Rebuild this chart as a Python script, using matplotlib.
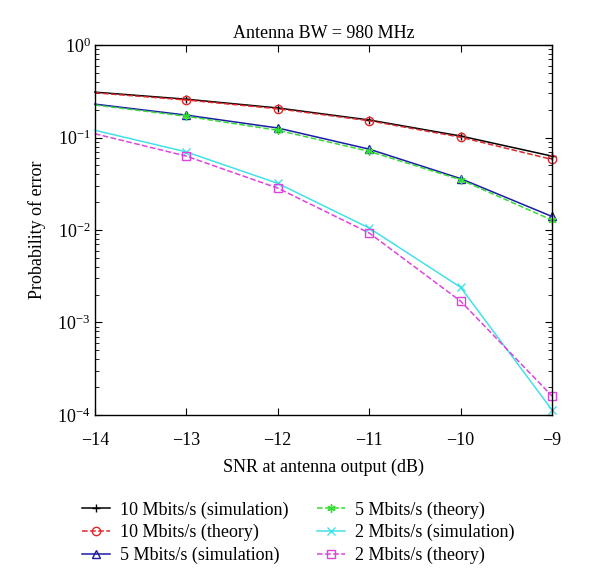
import matplotlib
matplotlib.use("Agg")
import matplotlib.pyplot as plt
from matplotlib.ticker import LogLocator, NullFormatter

plt.rcParams["font.family"] = ["Liberation Serif", "DejaVu Serif"]
plt.rcParams["mathtext.fontset"] = "stix"
plt.rcParams["font.size"] = 13

snr = [-14, -13, -12, -11, -10, -9]

sim_10 = [0.31, 0.26, 0.209, 0.155, 0.104, 0.063]
theory_10 = [0.305, 0.255, 0.205, 0.152, 0.101, 0.058]
sim_5 = [0.23, 0.175, 0.127, 0.075, 0.036, 0.014]
theory_5 = [0.225, 0.17, 0.12, 0.071, 0.035, 0.0128]
sim_2 = [0.12, 0.07, 0.032, 0.0105, 0.0024, 0.000113]
theory_2 = [0.11, 0.063, 0.0284, 0.0093, 0.0017, 0.00016]

# MATLAB-style asterisk marker
asterisk = (6, 2, 0)

series = [
    ("10 Mbits/s (simulation)", sim_10, "k", "-", "+"),
    ("10 Mbits/s (theory)", theory_10, "#e0282a", "--", "o"),
    ("5 Mbits/s (simulation)", sim_5, "#1c1ca8", "-", "^"),
    ("5 Mbits/s (theory)", theory_5, "#33dd33", "--", asterisk),
    ("2 Mbits/s (simulation)", sim_2, "#44e0e8", "-", "x"),
    ("2 Mbits/s (theory)", theory_2, "#dd44dd", "--", "s"),
]

fig = plt.figure(figsize=(6.0, 5.86), dpi=100)
ax = fig.add_axes([0.158, 0.292, 0.762, 0.631])

for label, values, color, ls, marker in series:
    ax.semilogy(snr, values, color=color, linestyle=ls, marker=marker,
                markersize=6, markerfacecolor="none", markeredgecolor=color,
                markeredgewidth=1.0, linewidth=1.1, markevery=slice(1, None),
                label=label, clip_on=False)

ax.set_xlim(-14, -9)
ax.set_ylim(1e-4, 1e0)
ax.set_xticks(snr)
ax.set_xticklabels(["\u221214", "\u221213", "\u221212", "\u221211", "\u221210", "\u22129"])
ax.yaxis.set_major_locator(LogLocator(base=10, numticks=10))
ax.yaxis.set_minor_locator(LogLocator(base=10, subs=range(2, 10), numticks=10))
ax.yaxis.set_minor_formatter(NullFormatter())
ax.tick_params(which="both", direction="in", top=True, right=True)
ax.tick_params(which="major", length=5)
ax.tick_params(which="minor", length=3)
ax.tick_params(axis="y", pad=3)
ax.tick_params(axis="x", pad=12)
for spine in ax.spines.values():
    spine.set_linewidth(1.0)

ax.set_title("Antenna BW = 980 MHz", fontsize=13, pad=5)
ax.set_xlabel("SNR at antenna output (dB)", labelpad=7)
ax.set_ylabel("Probability of error", labelpad=8)

fig.legend(loc="upper center", bbox_to_anchor=(0.497, 0.172), ncol=2,
           frameon=False, handlelength=1.55, handletextpad=0.55,
           columnspacing=1.6, labelspacing=0.3, fontsize=13)

fig.savefig("out.png", dpi=100)
